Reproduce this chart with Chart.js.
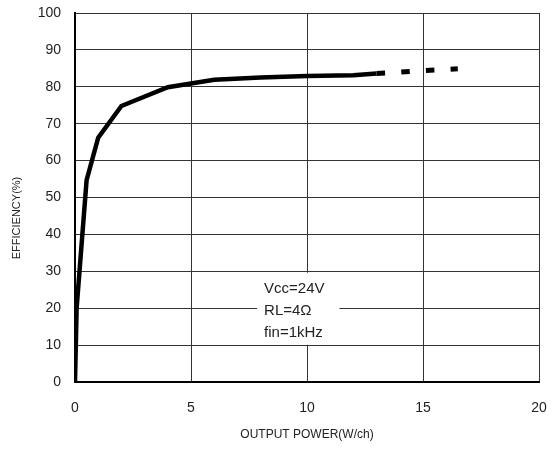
<!DOCTYPE html>
<html>
<head>
<meta charset="utf-8">
<script src="https://cdn.jsdelivr.net/npm/chart.js@4/dist/chart.umd.min.js"></script>
<style>
  html, body { margin: 0; padding: 0; background: #fff; }
  canvas { display: block; }
</style>
</head>
<body>
<canvas id="chart" width="553" height="449"></canvas>
<script>
// output power (W/ch) vs efficiency (%)
const powerSolid = [0, 0.07, 0.5, 1, 2, 4, 6, 8, 10, 12, 13.0];
const effSolid = [0, 20, 54.7, 66.2, 74.8, 79.9, 81.9, 82.5, 82.9, 83.1, 83.6];
const powerDashed = [13.0, 16.5];
const effDashed = [83.6, 84.9];

const xTicks = [0, 5, 10, 15, 20];
const yTicks = [0, 10, 20, 30, 40, 50, 60, 70, 80, 90, 100];
const conditions = ['Vcc=24V', 'RL=4\u03A9', 'fin=1kHz'];

const FONT = "'Liberation Sans', Arial, sans-serif";

function toPoints(xs, ys) {
  return xs.map((x, i) => ({ x: x, y: ys[i] }));
}

const extras = {
  id: 'extras',
  afterDraw(chart) {
    const ctx = chart.ctx;
    const xs = chart.scales.x;
    const ys = chart.scales.y;

    // y axis title
    ctx.save();
    ctx.translate(17, 218);
    ctx.rotate(-Math.PI / 2);
    ctx.font = '11px ' + FONT;
    ctx.fillStyle = '#222';
    ctx.textAlign = 'center';
    ctx.textBaseline = 'middle';
    ctx.fillText('EFFICIENCY(%)', 0, 0);
    ctx.restore();

    // conditions box
    const x0 = xs.getPixelForValue(7.85);
    const x1 = xs.getPixelForValue(11.4);
    const y0 = ys.getPixelForValue(29.6);
    const y1 = ys.getPixelForValue(10.1);
    ctx.save();
    ctx.fillStyle = '#fff';
    ctx.fillRect(x0, y0, x1 - x0, y1 - y0);
    ctx.font = '15px ' + FONT;
    ctx.fillStyle = '#222';
    ctx.textAlign = 'left';
    ctx.textBaseline = 'middle';
    const tx = xs.getPixelForValue(8.15);
    const rows = [25.2, 19.3, 13.3];
    conditions.forEach((t, i) => {
      ctx.fillText(t, tx, ys.getPixelForValue(rows[i]));
    });
    ctx.restore();
  }
};

new Chart(document.getElementById('chart'), {
  type: 'line',
  data: {
    datasets: [
      {
        data: toPoints(powerSolid, effSolid),
        borderColor: '#000',
        borderWidth: 4.5,
        pointRadius: 0,
        tension: 0,
        fill: false
      },
      {
        data: toPoints(powerDashed, effDashed),
        borderColor: '#000',
        borderWidth: 5,
        borderDash: [8.5, 16.2],
        pointRadius: 0,
        tension: 0,
        fill: false
      }
    ]
  },
  options: {
    responsive: false,
    animation: false,
    devicePixelRatio: 1,
    layout: { padding: { top: 13, right: 14, left: 0, bottom: 0 } },
    plugins: {
      legend: { display: false },
      tooltip: { enabled: false }
    },
    scales: {
      x: {
        type: 'linear',
        min: 0,
        max: 20,
        afterBuildTicks: (s) => { s.ticks = xTicks.map(v => ({ value: v })); },
        afterFit: (s) => { s.height = 67; s.paddingLeft = 0; s.paddingRight = 0; },
        ticks: { font: { size: 14, family: FONT }, color: '#222', padding: 18 },
        grid: { color: '#333', lineWidth: 1, drawTicks: false },
        border: { color: '#000', width: 2 },
        title: {
          display: true,
          text: 'OUTPUT POWER(W/ch)',
          font: { size: 12, family: FONT },
          color: '#222',
          padding: { top: 0, bottom: 7 }
        }
      },
      y: {
        min: 0,
        max: 100,
        afterBuildTicks: (s) => { s.ticks = yTicks.map(v => ({ value: v })); },
        afterFit: (s) => { s.width = 75; s.paddingTop = 0; s.paddingBottom = 0; },
        ticks: { font: { size: 14, family: FONT }, color: '#222', padding: 14 },
        grid: { color: '#333', lineWidth: 1, drawTicks: false },
        border: { color: '#000', width: 2 }
      }
    }
  },
  plugins: [extras]
});
</script>
</body>
</html>
